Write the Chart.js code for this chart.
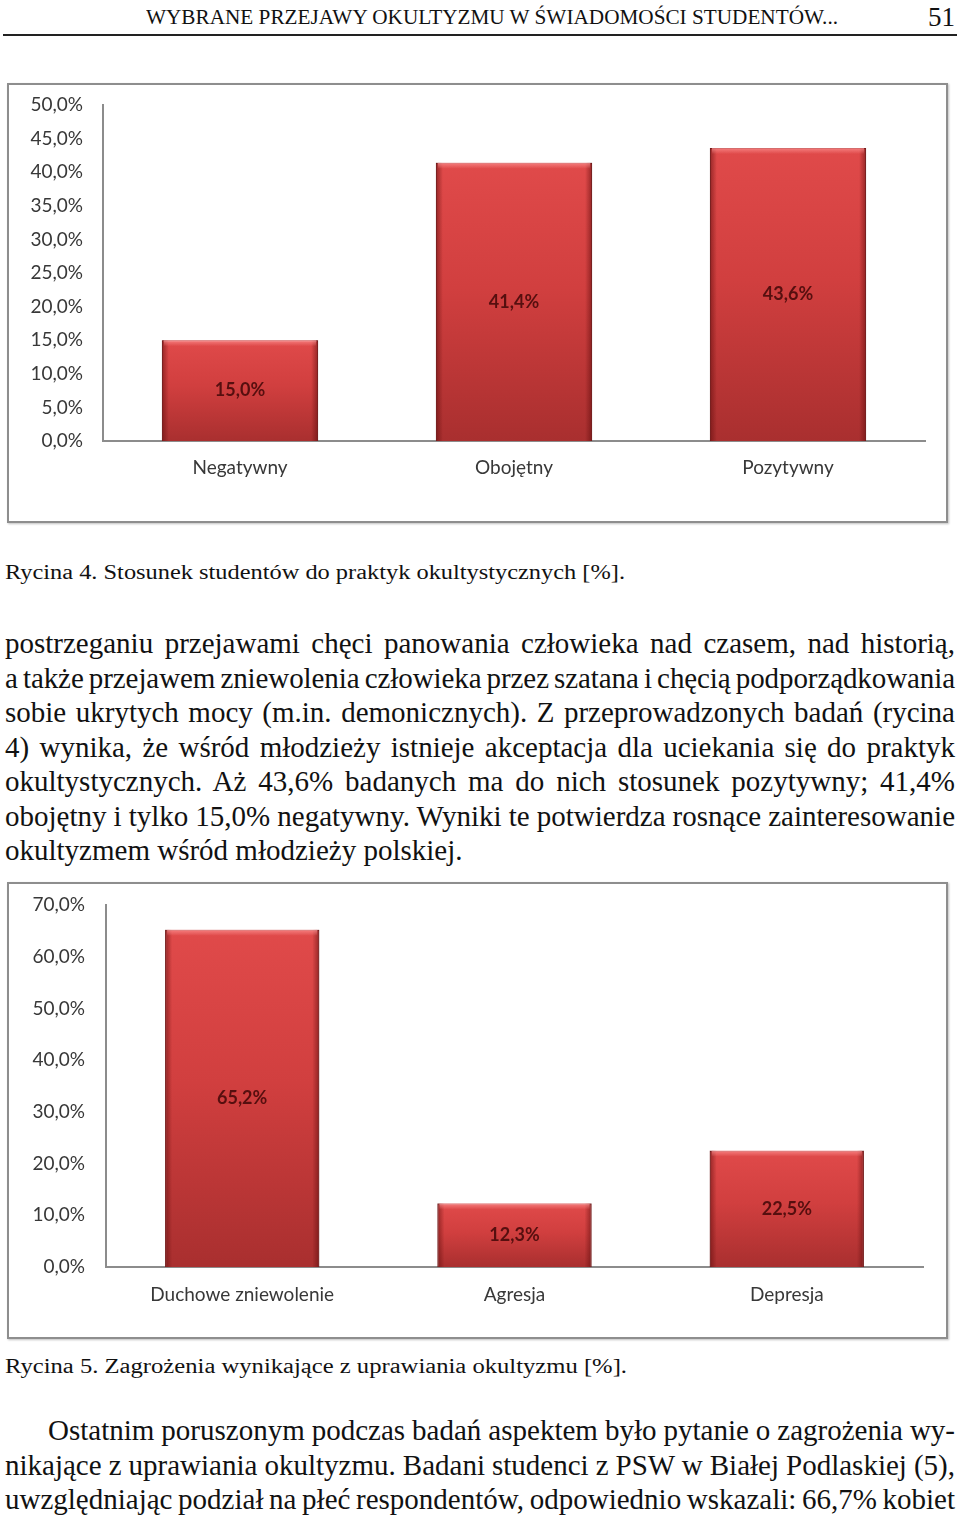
<!DOCTYPE html>
<html lang="pl">
<head>
<meta charset="utf-8">
<script src="https://cdn.jsdelivr.net/npm/chart.js@4.4.1/dist/chart.umd.min.js"></script>
<style>
html,body{margin:0;padding:0;background:#fff;}
body{width:960px;height:1517px;position:relative;overflow:hidden;font-family:"Liberation Serif","DejaVu Serif",serif;color:#111;}
.abs{position:absolute;white-space:nowrap;}
.fit{display:inline-block;transform-origin:0 50%;}
#rule{position:absolute;left:3px;top:34px;width:954px;height:2px;background:#222;}
.frame{position:absolute;left:7px;width:937px;border:2px solid #8e8e8e;background:#fff;box-shadow:1px 1px 2px rgba(0,0,0,0.25);}
.frame .inner{position:absolute;left:0;top:0;right:0;bottom:0;}
.para{position:absolute;left:5px;font-size:29px;line-height:34.5px;}
.para span{display:inline-block;white-space:nowrap;}
.para div{height:34.5px;}
</style>
</head>
<body>

<div class="abs" style="left:146px;top:5px;font-size:20px;line-height:24px;"><span class="fit" id="head" data-w="692">WYBRANE PRZEJAWY OKULTYZMU W ŚWIADOMOŚCI STUDENTÓW...</span></div>
<div class="abs" style="left:928px;top:1px;font-size:27px;line-height:32px;">51</div>
<div id="rule"></div>

<div class="frame" style="top:83px;height:436px;"><div class="inner"><canvas id="chart1"></canvas></div></div>

<div class="abs" style="left:5px;top:560px;font-size:20px;line-height:24px;"><span class="fit" data-w="620">Rycina 4. Stosunek studentów do praktyk okultystycznych [%].</span></div>

<div class="para" style="top:626px;">
<div><span class="j" data-w="950">postrzeganiu przejawami chęci panowania człowieka nad czasem, nad historią,</span></div>
<div><span class="j" data-w="950">a także przejawem zniewolenia człowieka przez szatana i chęcią podporządkowania</span></div>
<div><span class="j" data-w="950">sobie ukrytych mocy (m.in. demonicznych). Z przeprowadzonych badań (rycina</span></div>
<div><span class="j" data-w="950">4) wynika, że wśród młodzieży istnieje akceptacja dla uciekania się do praktyk</span></div>
<div><span class="j" data-w="950">okultystycznych. Aż 43,6% badanych ma do nich stosunek pozytywny; 41,4%</span></div>
<div><span class="j" data-w="950">obojętny i tylko 15,0% negatywny. Wyniki te potwierdza rosnące zainteresowanie</span></div>
<div><span>okultyzmem wśród młodzieży polskiej.</span></div>
</div>

<div class="frame" style="top:882px;height:453px;"><div class="inner"><canvas id="chart2"></canvas></div></div>

<div class="abs" style="left:5px;top:1354px;font-size:20px;line-height:24px;"><span class="fit" data-w="622">Rycina 5. Zagrożenia wynikające z uprawiania okultyzmu [%].</span></div>

<div class="para" style="top:1413px;">
<div style="padding-left:43px;"><span class="j" data-w="907">Ostatnim poruszonym podczas badań aspektem było pytanie o zagrożenia wy-</span></div>
<div><span class="j" data-w="950">nikające z uprawiania okultyzmu. Badani studenci z PSW w Białej Podlaskiej (5),</span></div>
<div><span class="j" data-w="950">uwzględniając podział na płeć respondentów, odpowiednio wskazali: 66,7% kobiet</span></div>
</div>

<script>
// Rycina 4
const labels4 = ["Negatywny", "Obojętny", "Pozytywny"]
const values4 = [15.0, 41.4, 43.6]
const ticks4 = [0, 5, 10, 15, 20, 25, 30, 35, 40, 45, 50]

// Rycina 5
const labels5 = ["Duchowe zniewolenie", "Agresja", "Depresja"]
const values5 = [65.2, 12.3, 22.5]
const ticks5 = [0, 10, 20, 30, 40, 50, 60, 70]


function pct(v){
return v.toFixed(1).replace(".", ",") + "%"
}

// justify lines of text; squeeze letters a bit when the words would touch
document.querySelectorAll(".j").forEach(el => {
const target = +el.dataset.w
const gaps = (el.textContent.match(/ /g) || []).length
let nat = el.getBoundingClientRect().width
let ws = (target - nat) / gaps
if(ws < -2){
const ls = (target - nat + 2 * gaps) / el.textContent.length
el.style.letterSpacing = ls + "px"
nat = el.getBoundingClientRect().width
ws = (target - nat) / gaps
}
el.style.wordSpacing = ws + "px"
})

document.querySelectorAll(".fit").forEach(el => {
const nat = el.getBoundingClientRect().width
el.style.transform = "scaleX(" + (+el.dataset.w / nat) + ")"
})


function barFill(ctx){
const chart = ctx.chart
if(!chart.chartArea || ctx.type !== "data") return "#c83b3b"
const y = chart.scales.y
const top = y.getPixelForValue(ctx.raw)
const base = y.getPixelForValue(0)
const g = chart.ctx.createLinearGradient(0, top, 0, base)
g.addColorStop(0, "#e04a4a")
g.addColorStop(0.45, "#d13f3f")
g.addColorStop(1, "#a92f2f")
return g
}


// bevel edges + value labels inside the bars
const barDecor = {
id: "barDecor",
afterDatasetsDraw(chart){
const c = chart.ctx
const meta = chart.getDatasetMeta(0)
const data = chart.data.datasets[0].data
meta.data.forEach((bar, i) => {
const p = bar.getProps(["x", "y", "base", "width"], true)
const left = p.x - p.width / 2
const right = p.x + p.width / 2
const h = p.base - p.y

c.save()
let g = c.createLinearGradient(left, 0, left + 7, 0)
g.addColorStop(0, "rgba(90,10,10,0.55)")
g.addColorStop(1, "rgba(90,10,10,0)")
c.fillStyle = g
c.fillRect(left, p.y, 7, h)

g = c.createLinearGradient(right - 7, 0, right, 0)
g.addColorStop(0, "rgba(90,10,10,0)")
g.addColorStop(1, "rgba(90,10,10,0.55)")
c.fillStyle = g
c.fillRect(right - 7, p.y, 7, h)

g = c.createLinearGradient(0, p.y, 0, p.y + 6)
g.addColorStop(0, "rgba(255,150,150,0.7)")
g.addColorStop(1, "rgba(255,150,150,0)")
c.fillStyle = g
c.fillRect(left + 2, p.y, p.width - 4, 6)

c.fillStyle = "#560f0f"
c.font = "bold 18px Lato, 'Open Sans', sans-serif"
c.textAlign = "center"
c.textBaseline = "middle"
c.fillText(pct(data[i]), p.x, (p.y + p.base) / 2)
c.restore()
})
}
}


function makeChart(id, labels, values, ticks, box){

return new Chart(document.getElementById(id), {

type: "bar",

data: {
labels: labels,
datasets: [{
data: values,
backgroundColor: barFill,
borderColor: "#8a2424",
borderWidth: 1,
categoryPercentage: 1,
barPercentage: box.bar
}]
},

plugins: [barDecor],

options: {
responsive: true,
maintainAspectRatio: false,
animation: false,
layout: { padding: { top: box.top, right: box.right, left: 0, bottom: 0 } },
plugins: {
legend: { display: false },
tooltip: { enabled: false }
},
scales: {
x: {
grid: { display: false, tickLength: 8 },
border: { display: true, color: "#8c8c8c", width: 2 },
ticks: {
color: "#383838",
padding: box.xPad,
font: { family: "Lato, 'Open Sans', sans-serif", size: 19 }
},
afterFit(scale){ scale.height = box.xH }
},
y: {
min: ticks[0],
max: ticks[ticks.length - 1],
grid: { display: false, tickLength: box.yGap },
border: { display: true, color: "#8c8c8c", width: 2 },
afterBuildTicks(scale){ scale.ticks = ticks.map(v => ({ value: v })) },
ticks: {
color: "#383838",
padding: 0,
font: { family: "Lato, 'Open Sans', sans-serif", size: 19 },
callback: v => pct(v)
},
afterFit(scale){ scale.width = box.yW }
}
}
}

})
}


makeChart("chart1", labels4, values4, ticks4,
{ bar: 0.57, top: 20, right: 21, xH: 80, yW: 94, xPad: 7, yGap: 20 })

makeChart("chart2", labels5, values5, ticks5,
{ bar: 0.566, top: 21, right: 23, xH: 70, yW: 97, xPad: 8, yGap: 21 })
</script>
</body>
</html>
